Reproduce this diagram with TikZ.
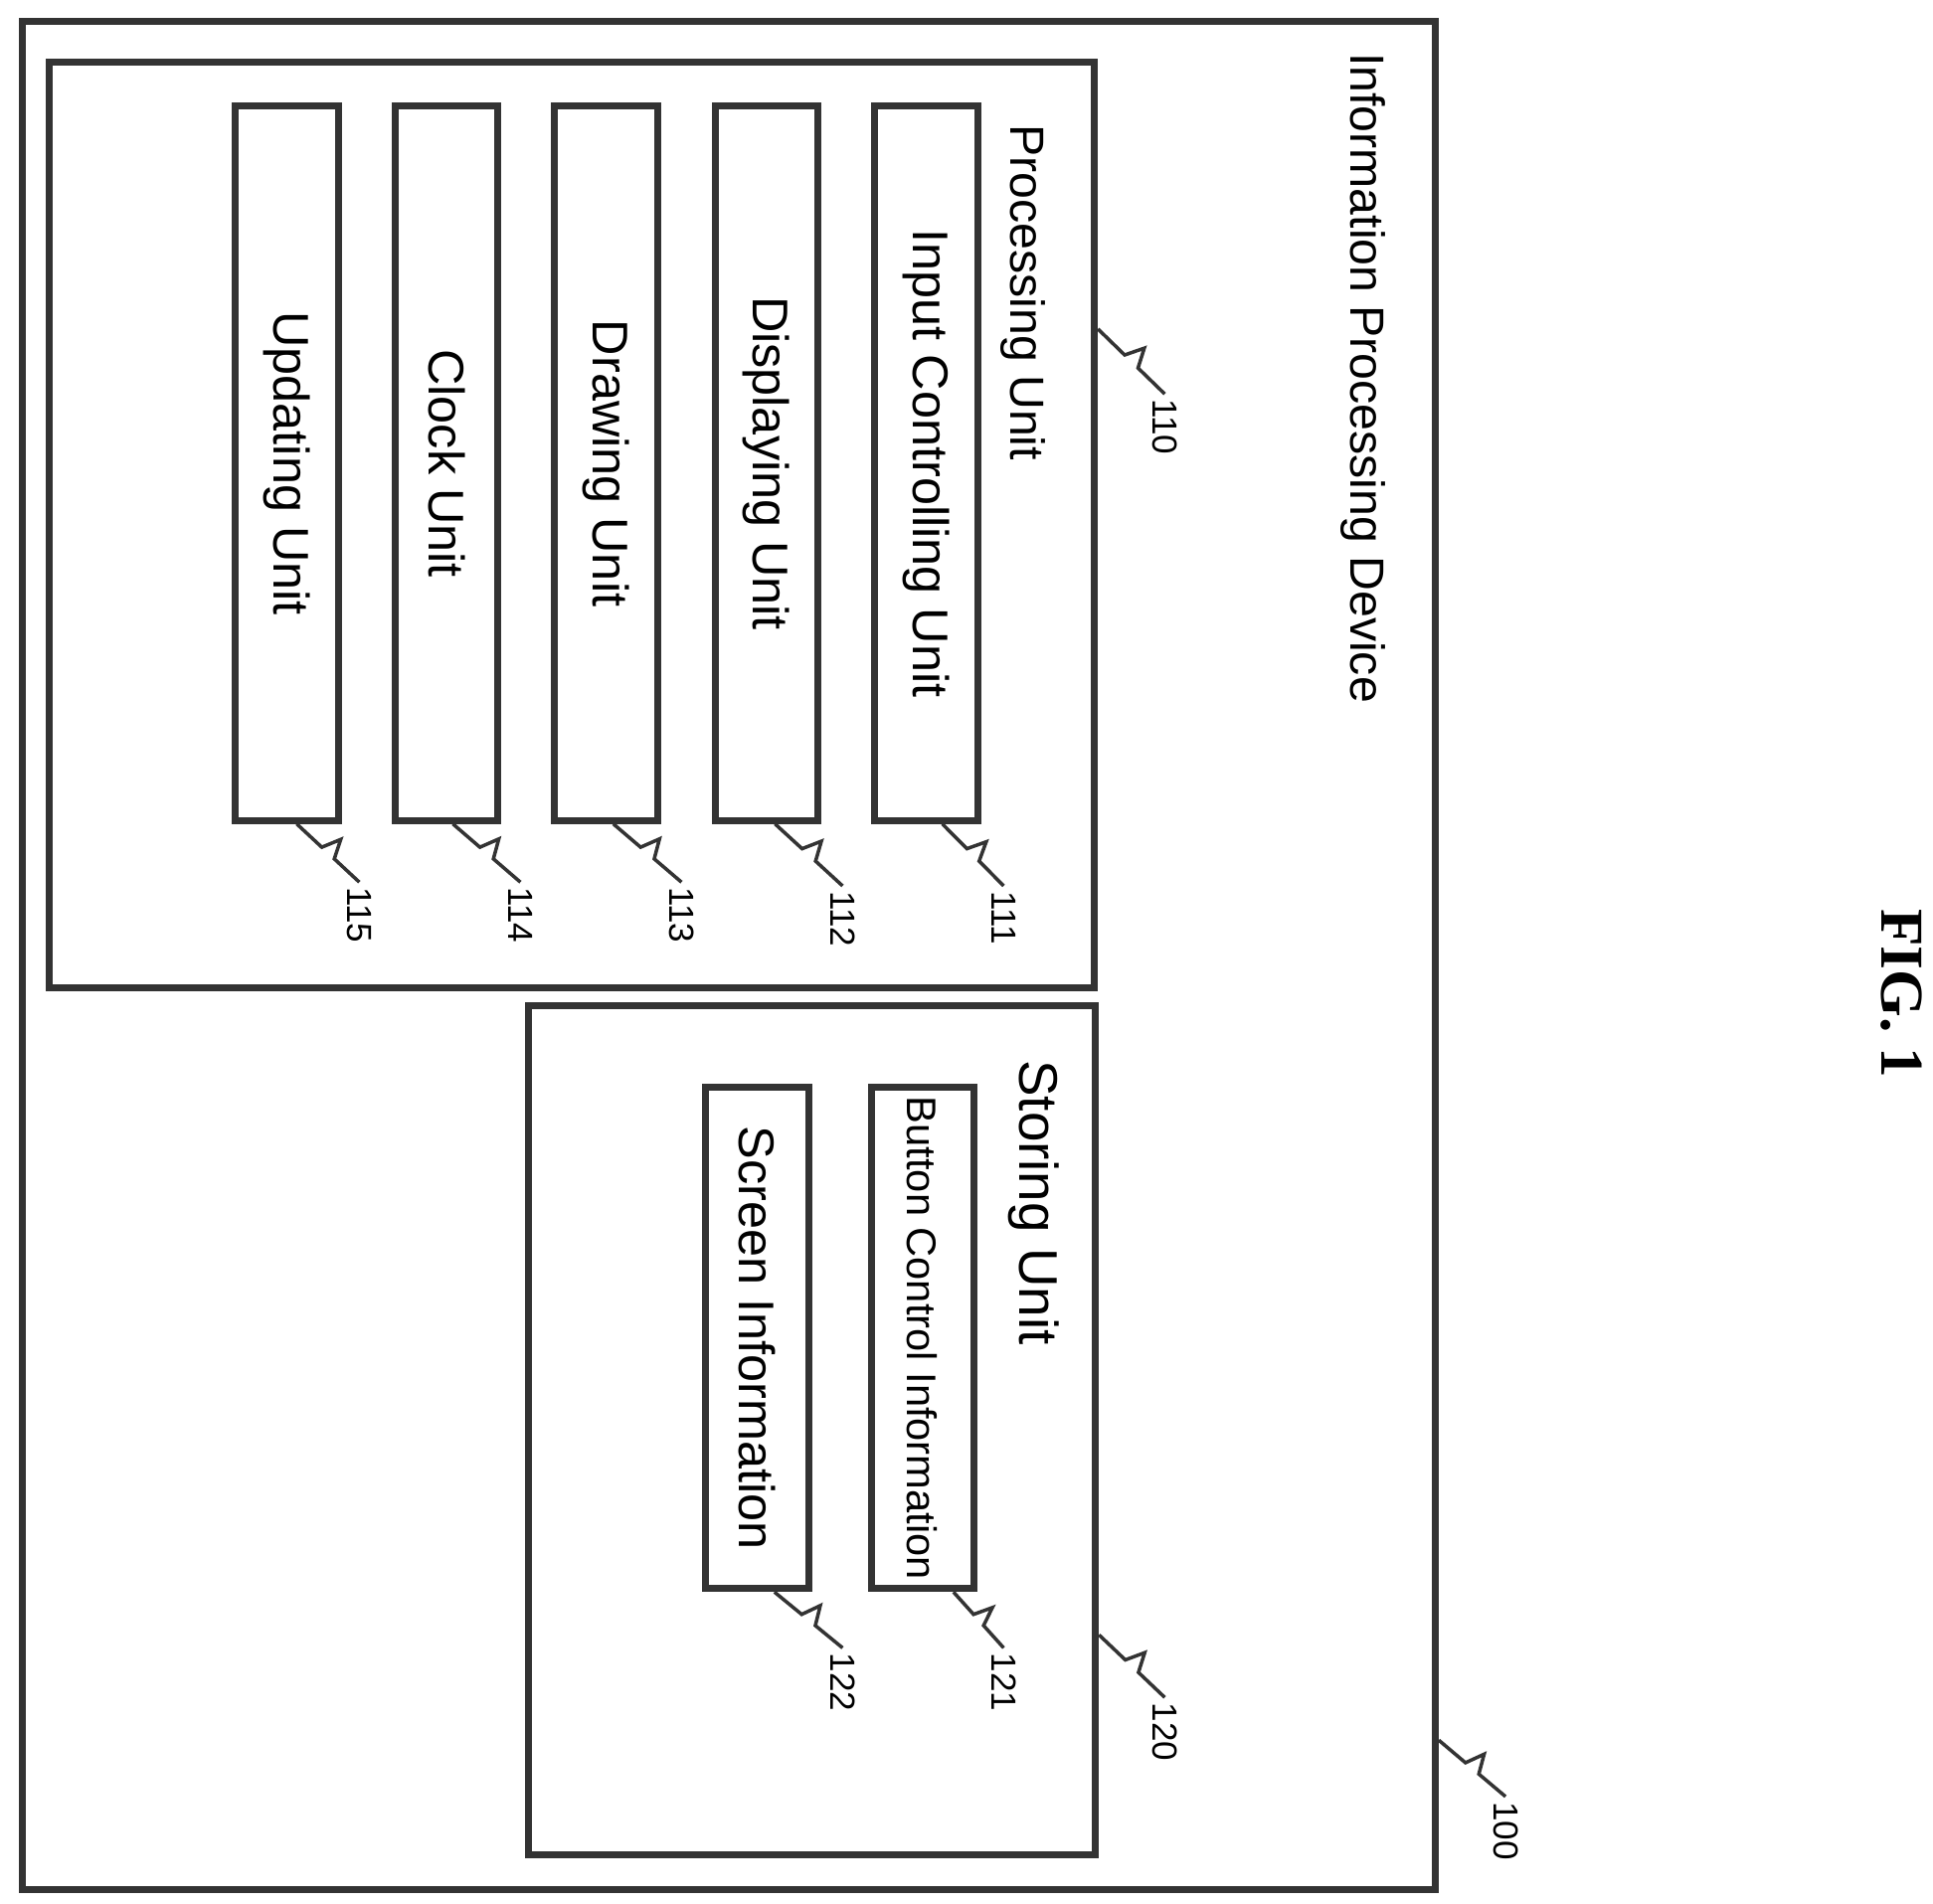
\documentclass[tikz,border=0pt]{standalone}
\usepackage{fontspec}
\setmainfont{Liberation Sans}
\newfontfamily\figfont{Liberation Serif}
\usetikzlibrary{calc, positioning}
\tikzset{
  frame/.style={draw=black!80, line width=1.6pt, rectangle, inner sep=0pt},
  unit/.style={frame, rotate=-90, minimum width=57.6mm, minimum height=8.3mm, font=\fontsize{11.5}{14}\selectfont},
  info/.style={frame, rotate=-90, minimum width=40.4mm, minimum height=8.3mm, font=\fontsize{11.5}{14}\selectfont},
  title/.style={rotate=-90, anchor=west, inner sep=0pt, font=\fontsize{11}{13}\selectfont},
  num/.style={rotate=-90, anchor=west, inner sep=1pt, font=\fontsize{8}{10}\selectfont},
  lead/.style={draw=black!80, line width=0.8pt},
}
\newcommand{\leader}[3]{%
  \coordinate (#2) at #3;
  \draw[lead] (#1) -- ($(#1)!.4!(#2)$) -- ($(#1)!.5!(#2)!.15cm!90:(#2)$)
    -- ($(#1)!.6!(#2)$) -- (#2);
}
\begin{document}
\begin{tikzpicture}[x=0.01cm, y=-0.01cm]
  \useasboundingbox (0,0) rectangle (1560,1536);
  % frames
  \node [frame, minimum width=11.4cm, minimum height=15.07cm] (dev) at (588,771.5) {};
  \node [frame, minimum width=8.43cm, minimum height=7.47cm] (proc) at (461.5,423.5) {};
  \node [frame, minimum width=4.57cm, minimum height=6.85cm] (stor) at (655.5,1154.5) {};
  \node [title] at (1100,42) {Information Processing Device};
  \node [title] at (826,100) {Processing Unit};
  \node [title, font=\fontsize{12.5}{14}\selectfont] at (834,855) {Storing Unit};
  % processing units
  \node [unit] (u111) at (747.5,374) {Input Controlling Unit};
  \node [unit] (u112) at (618.5,374) {Displaying Unit};
  \node [unit] (u113) at (489,374) {Drawing Unit};
  \node [unit] (u114) at (360.5,374) {Clock Unit};
  \node [unit] (u115) at (231.5,374) {Updating Unit};
  % storing units
  \node [info, font=\fontsize{9.5}{11}\selectfont] (u121) at (744.5,1080) {Button Control Information};
  \node [info] (u122) at (611,1080) {Screen Information};
  % reference numerals
  \leader{$(u111.east)+(13,0)$}{e111}{(810,715)}
  \leader{$(u112.east)+(7,0)$}{e112}{(680,715)}
  \leader{$(u113.east)+(6,0)$}{e113}{(550,712)}
  \leader{$(u114.east)+(5,0)$}{e114}{(420,712)}
  \leader{$(u115.east)+(8,0)$}{e115}{(290,712)}
  \leader{$(proc.east)+(0,-158)$}{e110}{(940,318)}
  \leader{$(u121.east)+(25,0)$}{e121}{(810,1330)}
  \leader{$(u122.east)+(14,0)$}{e122}{(680,1330)}
  \leader{$(stor.east)+(0,165)$}{e120}{(940,1370)}
  \leader{$(dev.east)+(0,633)$}{e100}{(1215,1450)}
  \node [num] at (e111) {111};
  \node [num] at (e112) {112};
  \node [num] at (e113) {113};
  \node [num] at (e114) {114};
  \node [num] at (e115) {115};
  \node [num] at (e110) {110};
  \node [num] at (e121) {121};
  \node [num] at (e122) {122};
  \node [num] at (e120) {120};
  \node [num] at (e100) {100};
  \node [rotate=-90, font=\figfont\bfseries\fontsize{14}{16}\selectfont] (fig) at (1535,802) {FIG. 1};
\end{tikzpicture}
\end{document}
